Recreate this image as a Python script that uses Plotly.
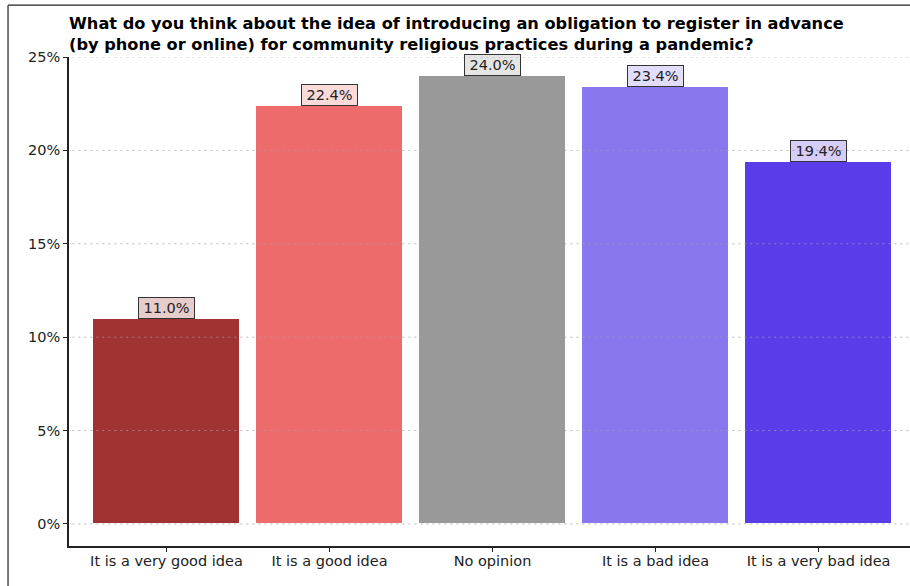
import plotly.graph_objects as go

# Survey answers and their shares (percent of respondents)
categories = ["It is a very good idea", "It is a good idea", "No opinion",
              "It is a bad idea", "It is a very bad idea"]
shares = [11.0, 22.4, 24.0, 23.4, 19.4]
bar_colors = ["#A13333", "#EE6B6B", "#999999", "#8877EE", "#5A3CE9"]
label_fills = ["rgba(161,51,51,0.25)", "rgba(238,107,107,0.25)", "rgba(153,153,153,0.25)",
               "rgba(136,119,238,0.25)", "rgba(90,60,233,0.25)"]
y_ticks = [0, 5, 10, 15, 20, 25]
y_tick_labels = ["0%", "5%", "10%", "15%", "20%", "25%"]

title_text = ("What do you think about the idea of introducing an obligation to register in advance<br>"
              "(by phone or online) for community religious practices during a pandemic?")

FONT = "DejaVu Sans"
INK = "#222222"

x_pos = list(range(len(categories)))

fig = go.Figure()
fig.add_trace(go.Bar(
    x=x_pos,
    y=shares,
    width=0.9,
    marker=dict(color=bar_colors, line=dict(color="white", width=1)),
    hoverinfo="skip",
))

# Value labels in boxes sitting on top of each bar
for xi, v, fill in zip(x_pos, shares, label_fills):
    fig.add_annotation(
        x=xi, y=v, xref="x", yref="y",
        text=f"{v:.1f}%",
        showarrow=False,
        yanchor="bottom",
        font=dict(family=FONT, size=14.5, color=INK),
        bgcolor=fill,
        bordercolor="#333333",
        borderwidth=1,
        borderpad=1,
        width=53,
        height=18,
    )

# Dotted horizontal gridlines drawn over the bars
for t in y_ticks:
    fig.add_shape(
        type="line", xref="paper", yref="y",
        x0=0.004, x1=1, y0=t, y1=t,
        line=dict(color="rgba(160,160,160,0.75)", width=1, dash="2px,4px"),
        layer="above",
    )

# Outer frame lines along the left and top of the figure
fig.add_shape(type="line", xref="paper", yref="paper",
              x0=-0.0725, x1=-0.0725, y0=-0.2, y1=1.106,
              line=dict(color="#222222", width=1.2), layer="above")
fig.add_shape(type="line", xref="paper", yref="paper",
              x0=-0.0725, x1=1.1, y0=1.106, y1=1.106,
              line=dict(color="#222222", width=1.2), layer="above")

fig.update_layout(
    width=910,
    height=586,
    margin=dict(l=69, r=0, t=57, b=40),
    paper_bgcolor="white",
    plot_bgcolor="white",
    showlegend=False,
    bargap=0,
    title=dict(
        text=f"<b>{title_text}</b>",
        font=dict(family=FONT, size=16.2, color="black"),
        x=69 / 910, xanchor="left", xref="container",
        y=1 - 28.5 / 586, yanchor="middle", yref="container",
    ),
    xaxis=dict(
        range=[-0.598, 4.561],
        tickmode="array",
        tickvals=x_pos,
        ticktext=categories,
        showgrid=False,
        zeroline=False,
        showline=True,
        linecolor=INK,
        linewidth=1.5,
        ticks="outside",
        ticklen=4,
        tickcolor=INK,
        ticklabelstandoff=-3,
        tickfont=dict(family=FONT, size=14.5, color=INK),
        fixedrange=True,
    ),
    yaxis=dict(
        range=[-1.18, 25],
        tickmode="array",
        tickvals=y_ticks,
        ticktext=y_tick_labels,
        showgrid=False,
        zeroline=False,
        showline=True,
        linecolor=INK,
        linewidth=1.5,
        ticks="outside",
        ticklen=4,
        tickcolor=INK,
        tickfont=dict(family=FONT, size=14.5, color=INK),
        fixedrange=True,
    ),
)

fig.write_html("out.html")
